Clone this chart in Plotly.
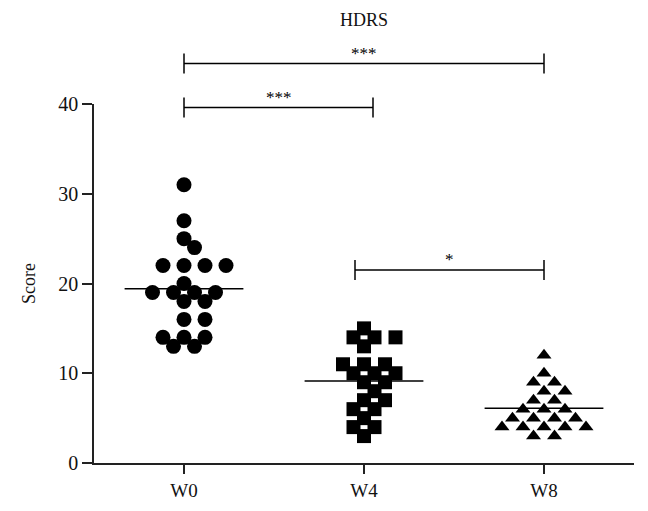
import plotly.graph_objects as go

# ---------------- data ----------------
categories = ["W0", "W4", "W8"]
w0_scores = [31, 27, 25, 24, 22, 22, 22, 22, 20, 19, 19, 19, 19, 18, 18, 16, 16, 14, 14, 14, 13, 13]
w4_scores = [15, 14, 14, 14, 13, 11, 11, 11, 10, 10, 10, 9, 9, 8, 7, 7, 6, 6, 5, 4, 4, 3]
w8_scores = [12, 10, 9, 9, 8, 8, 7, 7, 6, 6, 6, 5, 5, 5, 5, 4, 4, 4, 4, 4, 3, 3]
y_ticks = [0, 10, 20, 30, 40]
# significance brackets: (left category pos, right category pos, height in score units, label)
brackets = [(0, 2.0, 44.5, "***"), (0, 1.05, 39.6, "***"), (0.95, 2.0, 21.5, "*")]

# ---------------- layout geometry ----------------
W, H = 648, 511
ML, MR, MT, MB = 86, 22, 96, 56
x_range = [-0.5, 2.5]
y_range = [0, 40]
px_per_cat = (W - ML - MR) / (x_range[1] - x_range[0])
px_per_unit = (H - MT - MB) / (y_range[1] - y_range[0])


def swarm_offsets(values, step=10.5, row_gap=21.0, min_dist=12.0):
    """Row-aware beeswarm in pixel space; returns x offsets in category units."""
    order = sorted(range(len(values)), key=lambda i: -values[i])
    placed = []
    offs = [0.0] * len(values)
    cands = [0]
    for n in range(1, 20):
        cands += [n, -n]
    for i in order:
        y = values[i] * px_per_unit
        for c in cands:
            x = c * step
            ok = True
            for px, py in placed:
                if abs(py - y) < 1e-9:
                    if abs(px - x) < row_gap - 1e-9:
                        ok = False
                        break
                elif ((x - px) ** 2 + (y - py) ** 2) ** 0.5 < min_dist:
                    ok = False
                    break
            if ok:
                placed.append((x, y))
                offs[i] = x / px_per_cat
                break
    return offs


fig = go.Figure()
groups = [(w0_scores, "circle", 15), (w4_scores, "square", 14), (w8_scores, "triangle-up", 13)]
for gi, (vals, sym, size) in enumerate(groups):
    offs = swarm_offsets(vals)
    fig.add_trace(go.Scatter(
        x=[gi + o for o in offs], y=vals, mode="markers",
        marker=dict(symbol=sym, size=size, color="black", line=dict(width=0)),
        showlegend=False, cliponaxis=False,
    ))
    mean = sum(vals) / len(vals)
    fig.add_trace(go.Scatter(
        x=[gi - 0.33, gi + 0.33], y=[mean, mean], mode="lines",
        line=dict(color="black", width=1.5), showlegend=False,
    ))

shapes = []
annotations = []
cap = 10 / (H - MT - MB)  # cap half-height in paper units
for x0, x1, yv, label in brackets:
    yp = yv / y_range[1]
    shapes.append(dict(type="line", xref="x", yref="paper", x0=x0, x1=x1, y0=yp, y1=yp,
                       line=dict(color="black", width=1.5)))
    for xx in (x0, x1):
        shapes.append(dict(type="line", xref="x", yref="paper", x0=xx, x1=xx,
                           y0=yp - cap, y1=yp + cap, line=dict(color="black", width=1.5)))
    annotations.append(dict(x=(x0 + x1) / 2, y=yp, xref="x", yref="paper", text=label,
                            showarrow=False, yanchor="bottom", yshift=-1,
                            font=dict(family="Liberation Serif", size=17, color="black")))

fig.update_layout(
    width=W, height=H,
    margin=dict(l=ML, r=MR, t=MT, b=MB),
    paper_bgcolor="white", plot_bgcolor="white",
    title=dict(text="HDRS", x=(ML + (W - ML - MR) / 2) / W, xanchor="center", y=1 - 12 / H,
               yanchor="middle", font=dict(family="Liberation Serif", size=18, color="#111")),
    font=dict(family="Liberation Serif", size=18, color="#111"),
    shapes=shapes, annotations=annotations,
)
fig.update_xaxes(range=x_range, tickvals=[0, 1, 2], ticktext=categories,
                 showline=True, linecolor="#222", linewidth=1.5, ticks="outside",
                 ticklen=9, tickwidth=1.5, tickcolor="#222", showgrid=False, zeroline=False,
                 tickfont=dict(size=19))
fig.update_yaxes(range=y_range, tickvals=y_ticks, showline=True, linecolor="#222",
                 linewidth=1.5, ticks="outside", ticklen=10, tickwidth=1.5, tickcolor="#222",
                 showgrid=False, zeroline=False, tickfont=dict(size=20),
                 title=dict(text="Score", font=dict(size=18), standoff=18))

fig.write_html("out.html")
